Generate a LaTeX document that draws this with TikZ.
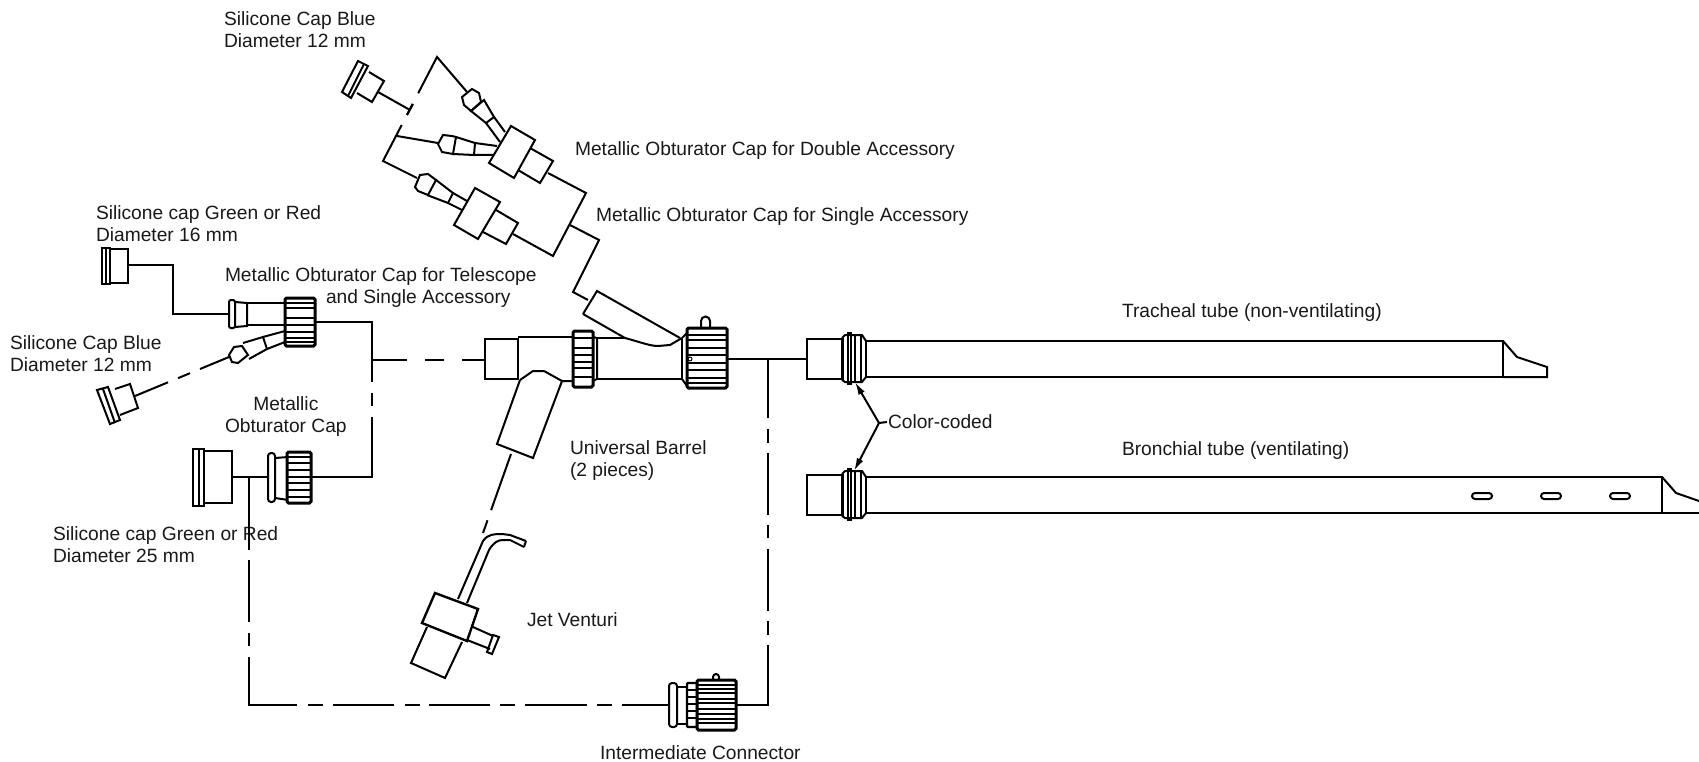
\documentclass[tikz,border=0pt]{standalone}
\usepackage{fontspec}
\setmainfont{Liberation Sans}
\usetikzlibrary{arrows.meta}
\begin{document}
\begin{tikzpicture}[x=1pt,y=-1pt,line width=2pt,
    lbl/.style={anchor=west,inner sep=0,align=left,font=\fontsize{19.2}{22}\selectfont,text=black!90},
    rib/.style={line width=2pt},
    nut/.style={line width=3pt,rounded corners=1.5pt},
    arrowline/.style={-{Latex[length=13pt,width=7pt]}}]
    \useasboundingbox (0,0) rectangle (1699,762);

    \node[lbl] (blueTop) at (223,30) {Silicone Cap Blue\\Diameter 12 mm};
    \node[lbl] (capDouble) at (574,150.5) {Metallic Obturator Cap for Double Accessory};
    \node[lbl] (capSingle) at (595,216.5) {Metallic Obturator Cap for Single Accessory};
    \node[lbl] (green16) at (95,224) {Silicone cap Green or Red\\Diameter 16 mm};
    \node[lbl] (capTele) at (224,288) {Metallic Obturator Cap for Telescope\\\hspace*{101pt}and Single Accessory};
    \node[lbl] (blueLeft) at (9,354) {Silicone Cap Blue\\Diameter 12 mm};
    \node[lbl,align=center] (capPlain) at (224,417) {Metallic\\Obturator Cap};
    \node[lbl] (green25) at (52,545) {Silicone cap Green or Red\\Diameter 25 mm};
    \node[lbl] (barrel) at (569,461) {Universal Barrel\\(2 pieces)};
    \node[lbl] (venturi) at (526,620) {Jet Venturi};
    \node[lbl] (interm) at (599,753) {Intermediate Connector};
    \node[lbl] (tracheal) at (1121,313) {Tracheal tube (non-ventilating)};
    \node[lbl] (bronchial) at (1121,451) {Bronchial tube (ventilating)};
    \node[lbl] (colorcoded) at (887,422) {Color-coded};

    \draw (358,61) -- (342,92) -- (351,98) -- (368,66) -- cycle;
    \draw (364,64) -- (348,96);
    \draw (369,72) -- (384,81) -- (372,102) -- (357,93);
    \coordinate (capTopEnd) at (378,92);
    \coordinate (capTopTick) at (410,110);
    \draw (capTopEnd) -- (capTopTick);
    \draw (413,104) -- (407,115);
    \coordinate (noseA) at (467,92);
    \coordinate (noseC) at (417,178);
    \draw[dash pattern=on 87pt off 12pt on 12.4pt off 11.3pt on 200pt] (noseA) -- (437,57) -- (383,161) -- (noseC);
    \coordinate (branchB) at (397,136);
    \coordinate (noseB) at (438,143);
    \draw (branchB) -- (noseB);

    \draw (462,97) -- (472,89) -- (479,93) -- (481,102) -- (471,111) -- (464,105) -- cycle;
    \draw (471,111) -- (484,100) -- (494,117) -- (486,123) -- cycle;
    \draw (494,117) -- (505,132) (486,123) -- (500,142);
    \draw (438,144) -- (443,135) -- (452,136) -- (456,137) -- (453,154) -- (442,152) -- cycle;
    \draw (456,137) -- (475,143) -- (474,155) -- (453,154);
    \draw (475,143) -- (497,146) (474,155) -- (493,155);
    \draw (511,126) -- (535,140) -- (514,178) -- (489,163) -- cycle;
    \draw (530,148) -- (553,161) -- (540,183) -- (518,170);

    \draw (415,187) -- (420,175) -- (428,174) -- (436,180) -- (428,195) -- (418,191) -- cycle;
    \draw (436,180) -- (453,193) -- (448,203) -- (427,195);
    \draw (453,193) -- (467,201) (448,203) -- (462,210);
    \draw (475,188) -- (500,202) -- (478,239) -- (454,225) -- cycle;
    \draw (496,210) -- (518,223) -- (506,244) -- (483,232);

    \coordinate (dblEnd) at (548,173);
    \coordinate (sglEnd) at (513,234);
    \coordinate (sglJoin) at (570,225);
    \coordinate (barrelTop) at (588,300);
    \draw (dblEnd) -- (586,193) -- (553,256) -- (sglEnd);
    \draw (sglJoin) -- (599,240) -- (573,292) -- (barrelTop);

    \draw (102,248) rectangle (110,284);
    \draw (106,248) -- (106,284);
    \draw (110,249) rectangle (128,283);
    \coordinate (green16End) at (128,265);
    \coordinate (teleIn) at (229,314);
    \draw (green16End) -- (173,265) -- (173,314) -- (teleIn);
    \draw[rounded corners=2pt] (229,300) rectangle (235,328);
    \draw (235,302) -- (247,303) -- (247,326) -- (235,327);
    \draw (247,303) -- (285,303) (247,325) -- (285,325);
    \draw[nut] (285,298) rectangle (315,346);
    \foreach \y in {303,308,318,325,332,338,342}
        \draw[rib] (285,\y) -- (315,\y);
    \draw (229,355) -- (234,347) -- (242,346) -- (248,355) -- (238,363) -- (232,362) -- cycle;
    \draw (243,343) -- (263,337) -- (267,349) -- (249,359);
    \draw (263,337) -- (285,331) (267,349) -- (285,342);
    \coordinate (noseLeft) at (229,357);
    \coordinate (blueLeftEnd) at (135,396);
    \draw[dash pattern=on 31.4pt off 10.8pt on 13pt off 10.8pt on 40pt] (noseLeft) -- (blueLeftEnd);
    \draw (97,390) -- (108,387) -- (120,420) -- (110,424) -- cycle;
    \draw (103,389) -- (115,423);
    \draw (115,389) -- (130,384) -- (138,408) -- (120,415);

    \draw (193,449) rectangle (204,506);
    \draw (199,449) -- (199,506);
    \draw (204,451) rectangle (232,503);
    \coordinate (green25End) at (232,477);
    \coordinate (plainIn) at (268,477);
    \draw (green25End) -- (plainIn);
    \draw[rounded corners=3pt] (268,453) rectangle (275,502);
    \draw (275,458) -- (288,457) (275,498) -- (288,500);
    \draw[nut] (287,452) rectangle (311,503);
    \foreach \y in {457,463,470,477,483,490,497}
        \draw[rib] (287,\y) -- (311,\y);

    \coordinate (teleOut) at (315,322);
    \coordinate (plainOut) at (311,477);
    \coordinate (wireJoin) at (372,360);
    \coordinate (barrelIn) at (485,360);
    \draw[dash pattern=on 117pt off 11pt on 13pt off 11pt on 130pt] (teleOut) -- (372,322) -- (372,477) -- (plainOut);
    \draw[dash pattern=on 35pt off 18pt on 19pt off 18pt on 30pt] (wireJoin) -- (barrelIn);

    \draw (485,339) rectangle (518,379);
    \draw (518,339) -- (518,380);
    \draw (518,337) -- (573,337);
    \draw (520,380) -- (533,371) -- (544,371) -- (562,381) -- (573,381);
    \draw (520,380) -- (497,444) -- (533,458) -- (562,381);
    \draw[nut] (573,331) rectangle (593,387);
    \foreach \y in {338,348,355,362,368,377}
        \draw[rib] (573,\y) -- (593,\y);
    \draw (593,337) -- (597,338) -- (597,379) -- (593,381);
    \draw (597,338) -- (625,338) (597,379) -- (682,379);
    \draw (625,338) .. controls (640,342) and (650,346) .. (658,346) -- (670,345) -- (682,338);
    \draw (583,314) -- (597,291) -- (680,338) (583,314) -- (625,338);
    \draw (682,338) -- (682,379);
    \draw (682,338) -- (687,333) (682,379) -- (687,386);
    \draw (701,328) -- (701,321) arc (180:360:4.5) -- (710,328);
    \draw[nut] (687,328) rectangle (727,388);
    \foreach \y in {335,340,348,355,363,370,378,383}
        \draw[rib] (687,\y) -- (727,\y);
    \draw[fill=white,line width=1pt] (690,359) circle (2);

    \coordinate (barrelOut) at (727,359);
    \coordinate (ventOut) at (736,705);
    \coordinate (tubeIn) at (807,359);
    \draw (barrelOut) -- (tubeIn);
    \draw[dash pattern=on 59pt off 11pt on 14pt off 10pt on 62pt off 10pt on 13pt off 11pt on 62pt off 10pt on 14pt off 10pt on 100pt] (768,359) -- (768,705) -- (ventOut);

    \coordinate (sideEnd) at (511,454);
    \coordinate (hookEnd) at (483,533);
    \draw[dash pattern=on 59.6pt off 10.7pt on 13.6pt] (sideEnd) -- (hookEnd);
    \draw (458,599) -- (483,541) .. controls (488,534) and (494,534) .. (502,534) -- (510,535) -- (526,541);
    \draw (467,603) -- (489,550) .. controls (494,542) and (498,540) .. (503,540) -- (510,540) -- (524,547);
    \draw (526,541) -- (524,547);
    \draw[line width=2.4pt] (435,593) -- (478,609) -- (467,641) -- (422,623) -- cycle;
    \draw (427,627) -- (411,663) -- (445,678) -- (462,642);
    \draw (473,627) -- (493,636) (467,640) -- (490,649);
    \draw (493,635) -- (499,637) -- (492,654) -- (487,652) -- cycle;

    \coordinate (intermIn) at (670,705);
    \draw[dash pattern=on 73pt off 10pt on 62pt off 11pt on 13pt off 11pt on 96pt off 11pt on 15pt off 10pt on 61pt off 11pt on 15pt off 9pt on 61pt off 10pt on 15pt off 10pt on 62pt off 10pt on 15pt off 10pt on 60pt] (249,477) -- (249,705) -- (intermIn);
    \draw[rounded corners=3pt] (669,683) rectangle (677,727);
    \draw (677,687) -- (687,687) (677,724) -- (687,724);
    \draw[line width=2.4pt,rounded corners=1pt] (687,683) rectangle (697,727);
    \foreach \y in {690,697,704,711,718}
        \draw[rib] (687,\y) -- (697,\y);
    \draw (713,680) -- (713,677) arc (180:360:3) -- (719,680);
    \draw[nut] (697,680) rectangle (736,730);
    \foreach \y in {685,689,693,699,703,709,714,719,723}
        \draw[rib] (697,\y) -- (736,\y);

    \foreach \dy/\tubename in {0/tracheal,136/bronchial} {
        \begin{scope}[shift={(0,\dy)}]
            \draw (807,339) rectangle (842,379);
            \draw (842,338) -- (845,335) -- (862,335) -- (866,341);
            \draw (842,380) -- (845,382) -- (862,382) -- (866,377);
            \draw (843,338) -- (843,380) (855,335) -- (855,382) (861,335) -- (861,382);
            \draw[line width=2.6pt] (848,333) rectangle (851,384);
            \draw (866,341) -- (866,377);
        \end{scope}
    }
    \draw (866,341) -- (1503,341) -- (1503,377) -- (866,377);
    \draw (1503,341) -- (1517,357) -- (1547,367) -- (1547,377) -- (1503,377);
    \draw (866,477) -- (1662,477) -- (1662,513) -- (866,513);
    \draw (1662,477) -- (1676,493) -- (1699,501);
    \draw (1662,513) -- (1699,513);
    \foreach \x in {1472,1541,1610}
        \draw[rounded corners=3pt] (\x,493) rectangle ++(20,6);

    \coordinate (ccJoin) at (879,423);
    \draw (colorcoded.west) -- (ccJoin);
    \draw[arrowline] (ccJoin) -- (855,382);
    \draw[arrowline] (ccJoin) -- (854,471);
\end{tikzpicture}
\end{document}
